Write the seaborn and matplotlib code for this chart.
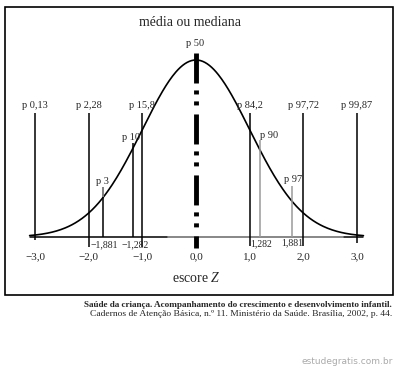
import matplotlib
matplotlib.use("Agg")
import matplotlib.pyplot as plt
import matplotlib.patches as patches
import numpy as np
import seaborn as sns

sns.set_style("white")
plt.rcParams['font.family'] = ['Liberation Serif', 'DejaVu Serif']
plt.rcParams['lines.scale_dashes'] = False
plt.rcParams['mathtext.fontset'] = 'custom'
plt.rcParams['mathtext.it'] = 'Liberation Serif:italic'
plt.rcParams['mathtext.rm'] = 'Liberation Serif'

# data
z_ticks = [-3.0, -2.0, -1.0, 0.0, 1.0, 2.0, 3.0]
z_tick_labels = ['\u22123,0', '\u22122,0', '\u22121,0', '0,0', '1,0', '2,0', '3,0']

sd_z = [-3.0, -2.0, -1.0, 1.0, 2.0, 3.0]
sd_labels = ['p 0,13', 'p 2,28', 'p 15,8', 'p 84,2', 'p 97,72', 'p 99,87']

pct_z = [-1.73, -1.17, 1.19, 1.79]
pct_labels = ['p 3', 'p 10', 'p 90', 'p 97']
pct_values = ['\u22121,881', '\u22121,282', '1,282', '1,881']

# normal curve
z = np.linspace(-3.1, 3.12, 300)
dens = np.exp(-z ** 2 / 2) / np.sqrt(2 * np.pi)

# pixel <-> data helpers
X0, XS = 196, 53.67
Y0, YS = 237, 443.7
def zx(px):
    return (px - X0) / XS
def yv(py):
    return (Y0 - py) / YS

fig = plt.figure(figsize=(3.95, 3.69), dpi=100)
ax = fig.add_axes([0, 0, 1, 1])
ax.set_xlim(zx(0), zx(395))
ax.set_ylim(yv(369), yv(0))
ax.axis('off')

# baseline (black ends, gray middle)
ax.plot([zx(30), zx(363)], [0, 0], color='black', lw=1.1)
ax.plot([zx(168), zx(343)], [0, 0], color='#9a9a9a', lw=1.2)

# curve
sns.lineplot(x=z, y=dens, ax=ax, color='black', lw=1.2)

# standard deviation lines
sd_bottom = [yv(240), yv(247), yv(247), yv(246), yv(246), yv(243)]
ax.vlines(sd_z, sd_bottom, yv(113), color='black', lw=1.1)
for zz, lab in zip(sd_z, sd_labels):
    ax.text(zz, yv(105), lab, ha='center', va='center', fontsize=7.5)

# percentile lines
pct_top = [yv(187), yv(143), yv(140), yv(186)]
pct_color = ['black', 'black', '#9a9a9a', '#9a9a9a']
for zz, top, c in zip(pct_z, pct_top, pct_color):
    ax.vlines(zz, 0, top, color=c, lw=1.1)
# gray top of p3 line above the curve
ax.vlines(pct_z[0], np.exp(-pct_z[0] ** 2 / 2) / np.sqrt(2 * np.pi), pct_top[0],
          color='#9a9a9a', lw=1.1)

pct_label_xy = [(102, 182), (131, 137), (269, 135), (293, 180)]
for (px, py), lab in zip(pct_label_xy, pct_labels):
    ax.text(zx(px), yv(py), lab, ha='center', va='center', fontsize=7.5)

pct_value_xy = [(104, 245), (135, 245), (261, 244), (292, 243)]
for (px, py), lab in zip(pct_value_xy, pct_values):
    ax.text(zx(px), yv(py), lab, ha='center', va='center', fontsize=7)

# median line
ax.plot([0, 0], [yv(53), yv(248)], color='black', lw=3.5, solid_capstyle='butt',
        dash_capstyle='butt', linestyle=(0, (21.6, 5.0, 2.9, 5.0, 2.9, 6.5)))
ax.text(zx(195), yv(44), 'p 50', ha='center', va='center', fontsize=7.5)
ax.text(zx(190), yv(23), 'média ou mediana', ha='center', va='center', fontsize=10)

# x tick labels
for zz, lab in zip(z_ticks, z_tick_labels):
    ax.text(zz, yv(257), lab, ha='center', va='center', fontsize=8)
ax.text(zx(196), yv(278), 'escore $Z$', ha='center', va='center', fontsize=10)

# frame
fig.patches.append(patches.Rectangle((5 / 395, 1 - 295 / 369), 388 / 395, 288 / 369,
                                     transform=fig.transFigure, fill=False,
                                     edgecolor='black', lw=1.2))

# source
fig.text(392 / 395, 1 - 305 / 369,
         'Saúde da criança. Acompanhamento do crescimento e desenvolvimento infantil.',
         ha='right', va='center', fontsize=6.6, fontweight='bold')
fig.text(392 / 395, 1 - 314 / 369,
         'Cadernos de Atenção Básica, n.º 11. Ministério da Saúde. Brasília, 2002, p. 44.',
         ha='right', va='center', fontsize=6.8)
fig.text(393 / 395, 1 - 362 / 369, 'estudegratis.com.br', ha='right', va='center',
         fontsize=6.5, color='#aaaaaa', family='DejaVu Sans')

fig.savefig('out.png', dpi=100)
